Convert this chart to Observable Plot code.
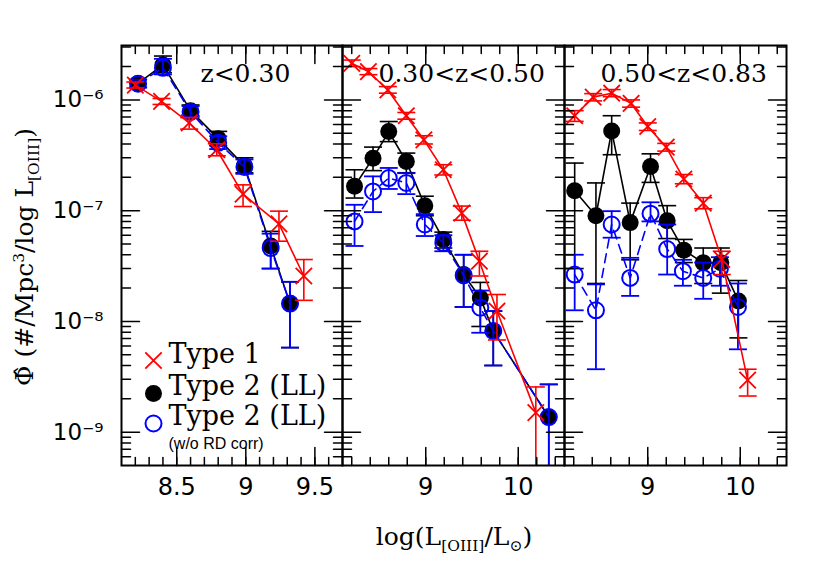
<!DOCTYPE html>
<html><head><meta charset="utf-8">
<script src="https://cdn.jsdelivr.net/npm/d3@7"></script>
<script src="https://cdn.jsdelivr.net/npm/@observablehq/plot@0.6"></script>
<style>
body{margin:0;background:#fff;}
#wrap{position:relative;width:830px;height:569px;overflow:hidden;background:#fff;}
#wrap svg{position:absolute;left:0;top:0;}
.ttl{position:absolute;font-family:"DejaVu Serif",serif;white-space:nowrap;color:#000;line-height:1;}
.ttl sub{font-size:62%;vertical-align:-0.4em;}
.ttl sup{font-size:62%;vertical-align:0.55em;}
#xtitle{left:454px;top:524px;font-size:25px;transform:translateX(-50%);}
#ytitle{left:27px;top:257px;font-size:25px;transform:translate(-50%,-50%) rotate(-90deg);}
</style></head><body><div id="wrap">
<div class="ttl" id="ytitle">Φ̂ (#/Mpc<sup>3</sup>/log L<sub>[OIII]</sub>)</div>
<div class="ttl" id="xtitle">log(L<sub>[OIII]</sub>/L<sub>⊙</sub>)</div>
</div>
<script>
// ---- labels ----
const panelTitles = ["z<0.30", "0.30<z<0.50", "0.50<z<0.83"];
const legendLabels = ["Type 1", "Type 2 (LL)", "Type 2 (LL)"];
const legendNote = "(w/o RD corr)";
const xDomains = [[8.1, 9.7], [8.1, 10.5], [8.1, 10.5]];
const xTickLabels = [[8.5, 9, 9.5], [9, 10], [9, 10]];
const yDomain = [5e-10, 3.1e-6];
const yTickLabels = [1e-9, 1e-8, 1e-7, 1e-6];

// ---- panel 1: z<0.30 ----
const lowZ_t1_x  = [8.20, 8.39, 8.59, 8.79, 8.98, 9.24, 9.42];
const lowZ_t1_y  = [1.36e-6, 9.7e-7, 6.2e-7, 3.55e-7, 1.41e-7, 7.6e-8, 2.57e-8];
const lowZ_t1_lo = [1.28e-6, 9.1e-7, 5.45e-7, 3.13e-7, 1.09e-7, 5.3e-8, 1.55e-8];
const lowZ_t1_hi = [1.45e-6, 1.03e-6, 6.93e-7, 4.02e-7, 1.71e-7, 9.9e-8, 3.62e-8];
const lowZ_t2_x  = [8.22, 8.40, 8.60, 8.80, 8.99, 9.18, 9.32];
const lowZ_t2_y  = [1.41e-6, 2.07e-6, 8.0e-7, 4.47e-7, 2.54e-7, 4.8e-8, 1.45e-8];
const lowZ_t2_lo = [1.30e-6, 1.76e-6, 7.2e-7, 3.85e-7, 2.2e-7, 3.0e-8, 5.8e-9];
const lowZ_t2_hi = [1.53e-6, 2.49e-6, 9.0e-7, 5.2e-7, 3.0e-7, 6.5e-8, 2.28e-8];
const lowZ_t2n_x  = [8.22, 8.40, 8.60, 8.80, 8.99, 9.18, 9.32];
const lowZ_t2n_y  = [1.40e-6, 1.95e-6, 7.8e-7, 4.1e-7, 2.48e-7, 4.6e-8, 1.45e-8];
const lowZ_t2n_lo = [1.29e-6, 1.70e-6, 7.0e-7, 3.6e-7, 2.15e-7, 3.0e-8, 5.8e-9];
const lowZ_t2n_hi = [1.52e-6, 2.35e-6, 8.8e-7, 4.7e-7, 2.9e-7, 6.2e-8, 2.28e-8];

// ---- panel 2: 0.30<z<0.50 ----
const midZ_t1_x  = [8.20, 8.38, 8.59, 8.79, 8.98, 9.19, 9.39, 9.58, 9.77, 10.19];
const midZ_t1_y  = [2.14e-6, 1.80e-6, 1.23e-6, 7.2e-7, 4.36e-7, 2.34e-7, 9.5e-8, 3.5e-8, 1.24e-8, 1.5e-9];
const midZ_t1_lo = [2.0e-6, 1.69e-6, 1.15e-6, 6.7e-7, 4.0e-7, 2.1e-7, 8.2e-8, 2.57e-8, 6.8e-9, 1e-10];
const midZ_t1_hi = [2.29e-6, 1.92e-6, 1.32e-6, 7.7e-7, 4.75e-7, 2.6e-7, 1.1e-7, 4.3e-8, 1.75e-8, 2.56e-9];
const midZ_t2_x  = [8.23, 8.43, 8.60, 8.79, 8.99, 9.19, 9.41, 9.59, 9.73, 10.33];
const midZ_t2_y  = [1.66e-7, 2.98e-7, 5.18e-7, 2.78e-7, 1.11e-7, 5.5e-8, 2.65e-8, 1.63e-8, 8.2e-9, 1.37e-9];
const midZ_t2_lo = [1.3e-7, 2.3e-7, 4.2e-7, 2.2e-7, 9.0e-8, 4.6e-8, 1.35e-8, 9.0e-9, 4.0e-9, 1e-10];
const midZ_t2_hi = [2.34e-7, 3.75e-7, 6.38e-7, 3.31e-7, 1.35e-7, 6.4e-8, 4.0e-8, 2.25e-8, 1.24e-8, 2.7e-9];
const midZ_t2n_x  = [8.23, 8.43, 8.60, 8.79, 8.99, 9.19, 9.41, 9.59, 9.73, 10.33];
const midZ_t2n_y  = [8.0e-8, 1.49e-7, 1.97e-7, 1.78e-7, 7.5e-8, 5.1e-8, 2.6e-8, 1.33e-8, 8.2e-9, 1.37e-9];
const midZ_t2n_lo = [4.8e-8, 9.7e-8, 1.57e-7, 1.41e-7, 5.9e-8, 4.3e-8, 1.35e-8, 7.9e-9, 4.0e-9, 1e-10];
const midZ_t2n_hi = [1.13e-7, 2.04e-7, 2.43e-7, 2.18e-7, 9.3e-8, 6.0e-8, 4.0e-8, 1.9e-8, 1.24e-8, 2.7e-9];

// ---- panel 3: 0.50<z<0.83 ----
const highZ_t1_x  = [8.21, 8.41, 8.61, 8.82, 9.00, 9.20, 9.39, 9.60, 9.80, 10.08];
const highZ_t1_y  = [7.2e-7, 1.06e-6, 1.15e-6, 9.3e-7, 5.75e-7, 3.75e-7, 1.93e-7, 1.17e-7, 3.63e-8, 2.95e-9];
const highZ_t1_lo = [6.4e-7, 9.8e-7, 1.07e-6, 8.6e-7, 5.3e-7, 3.45e-7, 1.75e-7, 1.04e-7, 2.65e-8, 2.12e-9];
const highZ_t1_hi = [8.0e-7, 1.14e-6, 1.24e-6, 1.0e-6, 6.2e-7, 4.05e-7, 2.12e-7, 1.31e-7, 4.3e-8, 3.7e-9];
const highZ_t2_x  = [8.21, 8.44, 8.61, 8.81, 9.03, 9.21, 9.39, 9.60, 9.79, 9.98];
const highZ_t2_y  = [1.51e-7, 9.0e-8, 5.25e-7, 7.8e-8, 2.5e-7, 8.1e-8, 4.4e-8, 3.38e-8, 3.38e-8, 1.53e-8];
const highZ_t2_lo = [3.0e-8, 2.2e-8, 3.2e-7, 3.6e-8, 1.8e-7, 5.6e-8, 3.4e-8, 2.2e-8, 1.8e-8, 7.1e-9];
const highZ_t2_hi = [2.69e-7, 1.78e-7, 7.2e-7, 1.17e-7, 3.26e-7, 1.11e-7, 5.5e-8, 4.6e-8, 4.6e-8, 2.34e-8];
const highZ_t2n_x  = [8.21, 8.44, 8.61, 8.81, 9.03, 9.21, 9.38, 9.60, 9.78, 9.975];
const highZ_t2n_y  = [2.65e-8, 1.26e-8, 7.5e-8, 2.47e-8, 9.4e-8, 4.5e-8, 2.84e-8, 2.47e-8, 2.99e-8, 1.35e-8];
const highZ_t2n_lo = [1.26e-8, 3.7e-9, 5.7e-8, 1.7e-8, 8.0e-8, 2.65e-8, 2.1e-8, 1.6e-8, 2.1e-8, 5.6e-9];
const highZ_t2n_hi = [4.0e-8, 2.16e-8, 9.9e-8, 3.75e-8, 1.19e-7, 7.5e-8, 3.6e-8, 3.4e-8, 3.8e-8, 2.2e-8];

// ---- build ----
const rows = (x, y, lo, hi) => x.map((v, i) => ({x: v, y: y[i], lo: lo[i], hi: hi[i]}));
const panels = [
  {t1: rows(lowZ_t1_x, lowZ_t1_y, lowZ_t1_lo, lowZ_t1_hi), t2: rows(lowZ_t2_x, lowZ_t2_y, lowZ_t2_lo, lowZ_t2_hi), t2n: rows(lowZ_t2n_x, lowZ_t2n_y, lowZ_t2n_lo, lowZ_t2n_hi)},
  {t1: rows(midZ_t1_x, midZ_t1_y, midZ_t1_lo, midZ_t1_hi), t2: rows(midZ_t2_x, midZ_t2_y, midZ_t2_lo, midZ_t2_hi), t2n: rows(midZ_t2n_x, midZ_t2n_y, midZ_t2n_lo, midZ_t2n_hi)},
  {t1: rows(highZ_t1_x, highZ_t1_y, highZ_t1_lo, highZ_t1_hi), t2: rows(highZ_t2_x, highZ_t2_y, highZ_t2_lo, highZ_t2_hi), t2n: rows(highZ_t2n_x, highZ_t2n_y, highZ_t2n_lo, highZ_t2n_hi)}
];

const W = 830, H = 569, TOP = 45, BOTTOM = 465;
const frames = [[121, 342], [342, 564], [564, 786]];
const titleDx = [79, 36, 36];
const minorStep = [0.1, 0.2, 0.2];
const legendDy = [-103, -71, -41];
const legendSymDy = [-105, -72, -42];
const RED = "#ff0000", BLUE = "#0000ff", BLACK = "#000000";

const capShape = {draw(c, size) { const r = Math.sqrt(size / Math.PI); c.moveTo(-r, 0); c.lineTo(r, 0); }};
const tickShapes = {
  bottom: {draw(c, l) { c.moveTo(0, 0); c.lineTo(0, -l); }},
  top: {draw(c, l) { c.moveTo(0, 0); c.lineTo(0, l); }},
  left: {draw(c, l) { c.moveTo(0, 0); c.lineTo(l, 0); }},
  right: {draw(c, l) { c.moveTo(0, 0); c.lineTo(-l, 0); }}
};
function ticks(values, side, len) {
  const horiz = side === "bottom" || side === "top";
  return Plot.vector(values, {[horiz ? "x" : "y"]: d => d, frameAnchor: side, length: len, anchor: "start",
    shape: tickShapes[side], stroke: BLACK, strokeWidth: 1.5});
}
const yMinor = [];
for (let e = -10; e <= -6; e++) for (let m = 2; m <= 9; m++) {
  const v = m * Math.pow(10, e);
  if (v > yDomain[0] && v < yDomain[1]) yMinor.push(v);
}
const supDigits = {"-": "⁻", "0": "⁰", "1": "¹", "2": "²", "3": "³", "4": "⁴", "5": "⁵", "6": "⁶", "7": "⁷", "8": "⁸", "9": "⁹"};
const fmtPow = d => "10" + String(Math.round(Math.log10(d))).split("").map(c => supDigits[c]).join("");

function errorMarks(data, color, sw) {
  return [
    Plot.ruleX(data, {x: "x", y1: "lo", y2: "hi", stroke: color, strokeWidth: sw, clip: true}),
    Plot.dot(data, {x: "x", y: "lo", symbol: capShape, r: 9, stroke: color, fill: "none", strokeWidth: sw, clip: true}),
    Plot.dot(data, {x: "x", y: "hi", symbol: capShape, r: 9, stroke: color, fill: "none", strokeWidth: sw, clip: true})
  ];
}

function panel(i) {
  const [L, R] = frames[i];
  const p = panels[i];
  const [x0, x1] = xDomains[i];
  const step = minorStep[i];
  const xMinor = d3.range(Math.round(x0 / step) + 1, Math.round(x1 / step)).map(k => +(k * step).toFixed(2));
  const marks = [
    // Type 2 (LL)
    Plot.line(p.t2, {x: "x", y: "y", stroke: BLACK, strokeWidth: 1.6, clip: true}),
    ...errorMarks(p.t2, BLACK, 1.6),
    Plot.dot(p.t2, {x: "x", y: "y", r: 8.5, fill: BLACK, clip: true}),
    // Type 2 (LL) w/o RD corr
    Plot.line(p.t2n, {x: "x", y: "y", stroke: BLUE, strokeWidth: 1.6, strokeDasharray: "9,6", clip: true}),
    ...errorMarks(p.t2n, BLUE, 1.8),
    Plot.dot(p.t2n, {x: "x", y: "y", r: 8, stroke: BLUE, strokeWidth: 2, fill: "none", clip: true}),
    // Type 1
    Plot.line(p.t1, {x: "x", y: "y", stroke: RED, strokeWidth: 1.6, clip: true}),
    ...errorMarks(p.t1, RED, 1.6),
    Plot.dot(p.t1, {x: "x", y: "y", symbol: "times", r: 7.5, stroke: RED, strokeWidth: 1.8, clip: true}),
    // axes
    ticks(xTickLabels[i], "bottom", 18), ticks(xMinor, "bottom", 8),
    ticks(xTickLabels[i], "top", 18), ticks(xMinor, "top", 8),
    ticks(yTickLabels, "left", 18), ticks(yMinor, "left", 9),
    ticks(yTickLabels, "right", 18), ticks(yMinor, "right", 9),
    Plot.frame({stroke: BLACK, strokeWidth: 2}),
    Plot.axisX(xTickLabels[i], {anchor: "bottom", tickSize: 0, tickPadding: 12, fontSize: 24, fontFamily: "DejaVu Sans", label: null, tickFormat: d => String(d)}),
    Plot.text([panelTitles[i]], {text: d => d, frameAnchor: "top-left", dx: titleDx[i], dy: 36, textAnchor: "start", lineAnchor: "bottom", fontSize: 25, fontFamily: "DejaVu Serif"})
  ];
  if (i === 0) {
    marks.push(Plot.axisY(yTickLabels, {anchor: "left", tickSize: 0, tickPadding: 18, fontSize: 23, fontFamily: "DejaVu Sans", label: null, tickFormat: fmtPow}));
    // legend
    marks.push(
      Plot.dot([legendLabels[0]], {frameAnchor: "bottom-left", dx: 32, dy: legendSymDy[0], symbol: "times", r: 7.5, stroke: RED, strokeWidth: 1.8}),
      Plot.dot([legendLabels[1]], {frameAnchor: "bottom-left", dx: 32, dy: legendSymDy[1], r: 8.5, fill: BLACK}),
      Plot.dot([legendLabels[2]], {frameAnchor: "bottom-left", dx: 32, dy: legendSymDy[2], r: 8, stroke: BLUE, strokeWidth: 2, fill: "none"}),
      ...legendLabels.map((lab, j) => Plot.text([lab], {text: d => d, frameAnchor: "bottom-left", dx: 47, dy: legendDy[j], textAnchor: "start", lineAnchor: "bottom", fontSize: 27, fontFamily: "DejaVu Serif"})),
      Plot.text([legendNote], {text: d => d, frameAnchor: "bottom-left", dx: 47, dy: -17, textAnchor: "start", lineAnchor: "bottom", fontSize: 16, fontFamily: "Liberation Sans"})
    );
  }
  return Plot.plot({
    width: W, height: H,
    marginLeft: L, marginRight: W - R, marginTop: TOP, marginBottom: H - BOTTOM,
    x: {domain: xDomains[i], axis: null},
    y: {type: "log", domain: yDomain, axis: null},
    style: {background: "transparent", overflow: "visible"},
    marks
  });
}

const wrap = document.getElementById("wrap");
for (let i = 0; i < 3; i++) wrap.appendChild(panel(i));
</script>
</body></html>
